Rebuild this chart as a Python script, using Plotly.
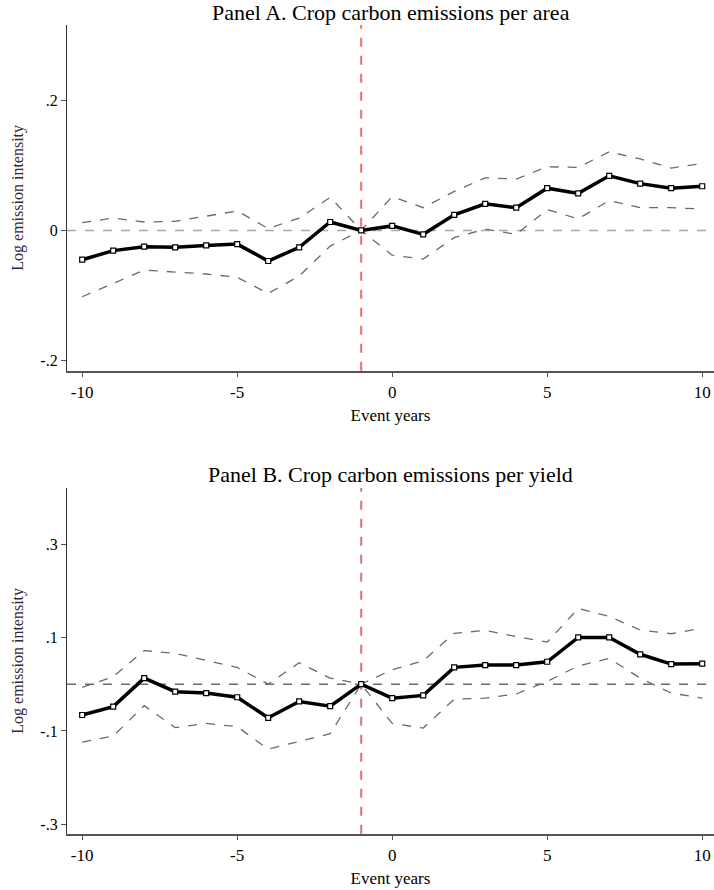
import plotly.graph_objects as go

# Event-time axis
event_years = list(range(-10, 11))

# Panel A: log emission intensity per area
area_coef = [-0.045, -0.031, -0.025, -0.026, -0.023, -0.021, -0.047, -0.026, 0.013, 0.0,
             0.007, -0.006, 0.024, 0.041, 0.035, 0.065, 0.057, 0.084, 0.072, 0.065, 0.068]
area_hi = [0.012, 0.019, 0.013, 0.014, 0.022, 0.030, 0.003, 0.019, 0.051, 0.0,
           0.052, 0.035, 0.060, 0.081, 0.079, 0.098, 0.097, 0.121, 0.110, 0.096, 0.103]
area_lo = [-0.102, -0.081, -0.061, -0.064, -0.067, -0.072, -0.097, -0.070, -0.024, 0.0,
           -0.038, -0.044, -0.011, 0.002, -0.006, 0.032, 0.018, 0.046, 0.035, 0.035, 0.033]

# Panel B: log emission intensity per yield
yield_coef = [-0.066, -0.048, 0.013, -0.016, -0.019, -0.028, -0.072, -0.037, -0.047, 0.0,
              -0.030, -0.024, 0.036, 0.041, 0.041, 0.048, 0.100, 0.100, 0.064, 0.043, 0.044]
yield_hi = [-0.007, 0.016, 0.072, 0.066, 0.051, 0.036, 0.0, 0.046, 0.013, 0.0,
            0.031, 0.050, 0.109, 0.115, 0.102, 0.090, 0.162, 0.145, 0.116, 0.108, 0.120]
yield_lo = [-0.124, -0.111, -0.046, -0.093, -0.084, -0.091, -0.139, -0.123, -0.106, 0.0,
            -0.084, -0.094, -0.032, -0.030, -0.021, 0.006, 0.039, 0.055, 0.013, -0.019, -0.030]

panel_titles = ["Panel A. Crop carbon emissions per area",
                "Panel B. Crop carbon emissions per yield"]
ytick_vals_a = [-0.2, 0, 0.2]
ytick_text_a = ["-.2", "0", ".2"]
ytick_vals_b = [-0.3, -0.1, 0.1, 0.3]
ytick_text_b = ["-.3", "-.1", ".1", ".3"]
xtick_vals = [-10, -5, 0, 5, 10]
xtick_text = ["-10", "-5", "0", "5", "10"]
event_line = -1

FONT = "Liberation Serif, Times New Roman, serif"

fig = go.Figure()

panels = [
    ("x", "y", area_coef, area_hi, area_lo),
    ("x2", "y2", yield_coef, yield_hi, yield_lo),
]
for xa, ya, coef, hi, lo in panels:
    for band in (hi, lo):
        fig.add_trace(go.Scatter(
            x=event_years, y=band, xaxis=xa, yaxis=ya, mode="lines",
            line=dict(color="#6a6a6a", width=1.3, dash="dash"),
            showlegend=False, hoverinfo="skip"))
    fig.add_trace(go.Scatter(
        x=event_years, y=coef, xaxis=xa, yaxis=ya, mode="lines+markers",
        line=dict(color="black", width=3.5),
        marker=dict(symbol="square", size=5, color="white",
                    line=dict(color="black", width=1.2)),
        showlegend=False))

xrange = [-10.49, 10.38]
axis_common_x = dict(
    range=xrange, tickmode="array", tickvals=xtick_vals, ticktext=xtick_text,
    ticks="outside", ticklen=5, tickwidth=1, tickcolor="#555",
    showline=True, linecolor="#555", linewidth=1.5,
    showgrid=False, zeroline=False,
    tickfont=dict(family=FONT, size=17, color="black"),
    title=dict(text="Event years", font=dict(family=FONT, size=17, color="black"), standoff=8),
)
axis_common_y = dict(
    ticks="outside", ticklen=5, tickwidth=1, tickcolor="#555",
    showline=True, linecolor="#333", linewidth=1.2,
    showgrid=False, zeroline=False,
    tickfont=dict(family=FONT, size=16, color="black"),
    title=dict(text="Log emission intensity", font=dict(family=FONT, size=16, color="#33283f"),
               standoff=12),
)

fig.update_layout(
    width=714, height=890,
    margin=dict(l=67, r=0, t=0, b=0),
    paper_bgcolor="white", plot_bgcolor="white",
    xaxis=dict(**axis_common_x, domain=[0, 1], anchor="y"),
    yaxis=dict(**axis_common_y, domain=[0.5835, 0.9719], anchor="x",
               range=[-0.2157, 0.316], tickmode="array",
               tickvals=ytick_vals_a, ticktext=ytick_text_a),
    xaxis2=dict(**axis_common_x, domain=[0, 1], anchor="y2"),
    yaxis2=dict(**axis_common_y, domain=[0.0633, 0.4517], anchor="x2",
                range=[-0.32, 0.42], tickmode="array",
                tickvals=ytick_vals_b, ticktext=ytick_text_b),
)

# Reference lines: zero effect and the pre-event base year
for xa, ya, zcolor in (("x", "y", "#a8a8a8"), ("x2", "y2", "#6a6a6a")):
    fig.add_shape(type="line", xref=f"{xa} domain", yref=ya, x0=0, x1=1, y0=0, y1=0,
                  line=dict(color=zcolor, width=1.4, dash="dash"), layer="below")
    fig.add_shape(type="line", xref=xa, yref=f"{ya} domain", x0=event_line, x1=event_line,
                  y0=0, y1=1, line=dict(color="#e46f6f", width=2, dash="dash"), layer="below")

for title, y_mid in zip(panel_titles, (0.9854, 0.4674)):
    fig.add_annotation(text=title, xref="paper", yref="paper", x=0.5, y=y_mid,
                       xanchor="center", yanchor="middle", showarrow=False,
                       font=dict(family=FONT, size=22, color="black"))

fig.write_html("out.html")
